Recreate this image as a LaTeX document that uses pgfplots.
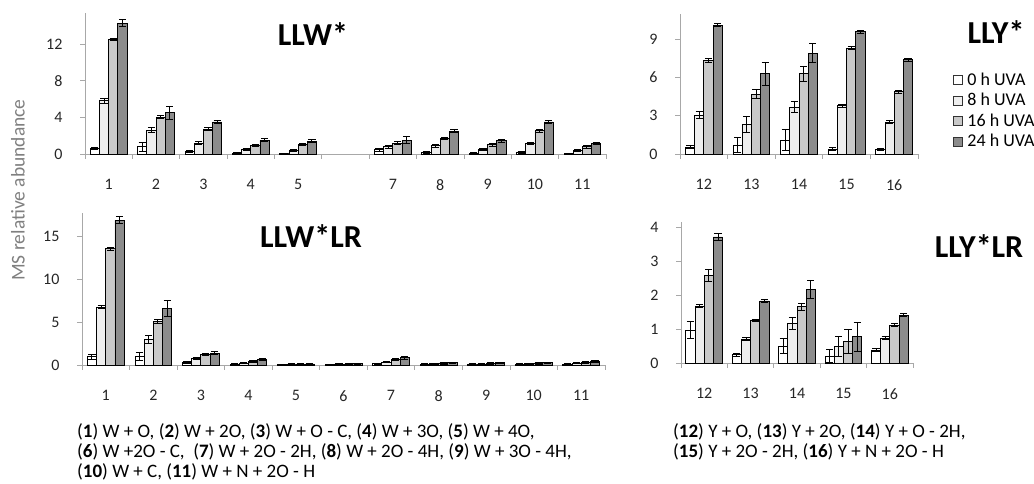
\documentclass[border=0pt]{standalone}
\usepackage{fontspec}
\setmainfont{Carlito}
\usepackage{pgfplots}
\pgfplotsset{compat=1.18}
\usepackage{pgfplotstable}

\definecolor{cA}{HTML}{FFFFFF}
\definecolor{cB}{HTML}{EEEEEE}
\definecolor{cC}{HTML}{C9C9C9}
\definecolor{cD}{HTML}{8C8C8C}
\definecolor{axgray}{HTML}{A8A8A8}
\definecolor{lblgray}{HTML}{7F7F7F}

% x  value/error for 0 h, 8 h, 16 h, 24 h UVA
\pgfplotstableread{
x a ae b be c ce d de
1 0.6 0.15 5.8 0.3 12.5 0.15 14.3 0.35
2 0.8 0.5 2.6 0.3 4.0 0.15 4.5 0.7
3 0.25 0.1 1.2 0.15 2.7 0.15 3.5 0.2
4 0.1 0.08 0.45 0.1 0.9 0.12 1.5 0.15
5 0.05 0.05 0.4 0.1 1.0 0.12 1.4 0.15
7 0.45 0.15 0.8 0.15 1.2 0.15 1.5 0.4
8 0.2 0.1 0.9 0.15 1.7 0.15 2.5 0.15
9 0.1 0.08 0.45 0.1 1.0 0.15 1.45 0.15
10 0.2 0.1 1.15 0.15 2.55 0.15 3.5 0.15
11 0.05 0.05 0.35 0.1 0.8 0.15 1.15 0.15
}\tlw
\pgfplotstableread{
x a ae b be c ce d de
12 0.55 0.12 3.05 0.25 7.35 0.15 10.1 0.12
13 0.7 0.6 2.3 0.65 4.7 0.35 6.3 0.9
14 1.1 0.85 3.7 0.45 6.3 0.6 7.9 0.75
15 0.4 0.1 3.8 0.12 8.3 0.12 9.6 0.12
16 0.35 0.1 2.5 0.12 4.9 0.12 7.4 0.12
}\tly
\pgfplotstableread{
x a ae b be c ce d de
1 0.97 0.3 6.75 0.18 13.6 0.18 16.9 0.4
2 0.97 0.5 3.0 0.5 5.1 0.25 6.6 0.9
3 0.3 0.1 0.8 0.1 1.2 0.1 1.4 0.12
4 0.1 0.06 0.2 0.08 0.4 0.1 0.6 0.12
5 0.05 0.05 0.08 0.06 0.1 0.08 0.12 0.08
6 0.05 0.05 0.08 0.06 0.1 0.08 0.15 0.08
7 0.15 0.08 0.35 0.1 0.65 0.12 0.85 0.15
8 0.1 0.06 0.15 0.08 0.2 0.1 0.25 0.1
9 0.08 0.06 0.12 0.08 0.2 0.1 0.25 0.1
10 0.1 0.06 0.15 0.08 0.2 0.1 0.25 0.1
11 0.1 0.06 0.2 0.08 0.3 0.1 0.4 0.12
}\blw
\pgfplotstableread{
x a ae b be c ce d de
12 0.97 0.25 1.68 0.05 2.58 0.17 3.72 0.1
13 0.24 0.04 0.71 0.04 1.25 0.04 1.83 0.04
14 0.5 0.22 1.17 0.17 1.66 0.1 2.17 0.27
15 0.2 0.2 0.48 0.3 0.63 0.35 0.77 0.42
16 0.38 0.05 0.73 0.05 1.12 0.05 1.41 0.05
}\bly

\pgfplotsset{
  panel/.style={
    scale only axis, ybar=0pt, bar width=9.2pt,
    ymin=0,
    axis x line*=bottom, axis y line*=left,
    axis line style={draw=axgray, line width=0.8pt, -},
    tick align=outside, major tick length=5pt,
    tick style={draw=axgray, line width=0.8pt},
    x tick label as interval,
    /pgf/number format/assume math mode=true,
    ticklabel style={font=\fontsize{16}{16}\selectfont, text=black!85},
    xticklabel style={yshift=-17pt},
    yticklabel style={anchor=east, xshift=-14pt},
    clip=false,
    legend image code/.code={\draw[#1,draw=black!80,line width=0.6pt] (0pt,-4.5pt) rectangle (9pt,4.5pt);},
  },
  bA/.style={fill=cA, draw=black, line width=0.8pt,
    error bars/y dir=both, error bars/y explicit,
    error bars/error bar style={line width=1pt, black},
    error bars/error mark options={rotate=90, mark size=3.6pt, line width=1pt, black}},
  bB/.style={bA, fill=cB},
  bC/.style={bA, fill=cC},
  bD/.style={bA, fill=cD},
}

\newcommand{\ttl}[1]{{\fontsize{32}{32}\selectfont\bfseries #1}}

\begin{document}
\begin{tikzpicture}
\path[use as bounding box] (0,0) rectangle (1034pt,484pt);

% top left LLW*
\begin{axis}[panel, at={(85pt,330pt)}, anchor=south west,
  width=521pt, height=141pt, xmin=0.5, xmax=11.5, ymax=15.4,
  xtick={0.5,1.5,...,11.5},
  xticklabels={1,2,3,4,5,{},7,8,9,10,11},
  ytick={0,4,8,12}]
\addplot[bA] table[x=x, y=a, y error=ae] {\tlw};
\addplot[bB] table[x=x, y=b, y error=be] {\tlw};
\addplot[bC] table[x=x, y=c, y error=ce] {\tlw};
\addplot[bD] table[x=x, y=d, y error=de] {\tlw};
\end{axis}

% top right LLY*
\begin{axis}[panel, at={(680pt,330pt)}, anchor=south west,
  width=238pt, height=140pt, xmin=11.5, xmax=16.5, ymax=11.0,
  xtick={11.5,12.5,...,16.5},
  xticklabels={12,13,14,15,16},
  ytick={0,3,6,9},
  legend style={draw=none, fill=none, at={(1.135,0.605)}, anchor=north west,
    font=\fontsize{18}{18}\selectfont, row sep=3.5pt,
    nodes={inner sep=1.5pt}},
  legend cell align=left]
\addplot[bA] table[x=x, y=a, y error=ae] {\tly};
\addplot[bB] table[x=x, y=b, y error=be] {\tly};
\addplot[bC] table[x=x, y=c, y error=ce] {\tly};
\addplot[bD] table[x=x, y=d, y error=de] {\tly};
\legend{\kern3pt 0 h UVA, \kern3pt 8 h UVA, \kern3pt 16 h UVA, \kern3pt 24 h UVA}
\end{axis}

% bottom left LLW*LR
\begin{axis}[panel, at={(82pt,119pt)}, anchor=south west,
  width=523pt, height=152pt, xmin=0.5, xmax=11.5, ymax=17.76,
  xtick={0.5,1.5,...,11.5},
  xticklabels={1,2,3,4,5,6,7,8,9,10,11},
  ytick={0,5,10,15}]
\addplot[bA] table[x=x, y=a, y error=ae] {\blw};
\addplot[bB] table[x=x, y=b, y error=be] {\blw};
\addplot[bC] table[x=x, y=c, y error=ce] {\blw};
\addplot[bD] table[x=x, y=d, y error=de] {\blw};
\end{axis}

% bottom right LLY*LR
\begin{axis}[panel, at={(681pt,121pt)}, anchor=south west,
  width=232pt, height=141pt, xmin=11.5, xmax=16.5, ymax=4.16,
  xtick={11.5,12.5,...,16.5},
  xticklabels={12,13,14,15,16},
  ytick={0,1,2,3,4}]
\addplot[bA] table[x=x, y=a, y error=ae] {\bly};
\addplot[bB] table[x=x, y=b, y error=be] {\bly};
\addplot[bC] table[x=x, y=c, y error=ce] {\bly};
\addplot[bD] table[x=x, y=d, y error=de] {\bly};
\end{axis}

% titles
\node at (313pt,450pt) {\ttl{LLW*}};
\node at (996pt,452pt) {\ttl{LLY*}};
\node at (311pt,248pt) {\ttl{LLW*LR}};
\node at (979pt,238pt) {\ttl{LLY*LR}};

% y label
\node[rotate=90, text=lblgray, font=\fontsize{19.5}{19.5}\selectfont] at (18pt,294pt) {MS relative abundance};

% captions
\node[anchor=north west, align=left, inner sep=0pt, font=\fontsize{19}{20}\selectfont] at (77pt,61pt)
{(\textbf{1}) W + O, (\textbf{2}) W + 2O, (\textbf{3}) W + O - C, (\textbf{4}) W + 3O, (\textbf{5}) W + 4O,\\
(\textbf{6}) W +2O - C,\ \ (\textbf{7}) W + 2O - 2H, (\textbf{8}) W + 2O - 4H, (\textbf{9}) W + 3O - 4H,\\
(\textbf{10}) W + C, (\textbf{11}) W + N + 2O - H};
\node[anchor=north west, align=left, inner sep=0pt, font=\fontsize{19}{20.5}\selectfont] at (673pt,61pt)
{(\textbf{12}) Y + O, (\textbf{13}) Y + 2O, (\textbf{14}) Y + O - 2H,\\
(\textbf{15}) Y + 2O - 2H, (\textbf{16}) Y + N + 2O - H};
\end{tikzpicture}
\end{document}
